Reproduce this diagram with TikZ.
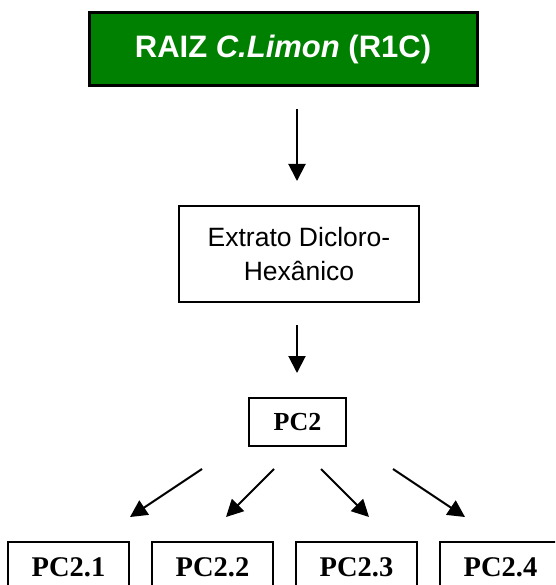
\documentclass[tikz,border=0pt]{standalone}
\usepackage{fontspec}
\setmainfont{Liberation Sans}
\newfontfamily\serifb{Liberation Serif}
\usetikzlibrary{arrows.meta}
\definecolor{boxgreen}{RGB}{0,128,0}
\begin{document}
\begin{tikzpicture}[x=1pt,y=-1pt,
  box/.style={draw=black,line width=2pt,rectangle,inner sep=0pt,fill=white},
  topbox/.style={draw=black,line width=3pt,fill=boxgreen,rectangle,inner sep=0pt,
    minimum width=388pt,minimum height=73pt,text=white,
    font=\fontsize{31}{36}\selectfont\bfseries},
  midbox/.style={box,minimum width=240pt,minimum height=96pt,align=center,
    font=\fontsize{26.5}{34}\selectfont},
  pcbox/.style={box,minimum height=48pt,
    font=\serifb\fontsize{26}{30}\selectfont\bfseries},
  leafbox/.style={box,minimum width=121pt,minimum height=50pt,
    font=\serifb\fontsize{28.5}{32}\selectfont\bfseries},
  arr/.style={line width=2pt,-{Triangle[length=17pt,width=17pt]}}]
\clip (0,0) rectangle (555,585);
\fill[white] (0,0) rectangle (555,585);

\node[topbox] (root) at (283,49.5) {RAIZ \textit{C.Limon} (R1C)};
\node[midbox] (ext) at (299,254) {Extrato Dicloro-\\Hexânico};
\node[pcbox,minimum width=97pt] (pc2) at (297.5,422) {PC2};
\node[leafbox] (p1) at (68.5,567) {PC2.1};
\node[leafbox] (p2) at (212.5,567) {PC2.2};
\node[leafbox] (p3) at (356.5,567) {PC2.3};
\node[leafbox] (p4) at (500.5,567) {PC2.4};

\coordinate (a1s) at (297,109);
\coordinate (a1e) at (297,181);
\coordinate (a2s) at (297,325);
\coordinate (a2e) at (297,373);
\coordinate (d1s) at (202,469);
\coordinate (d1e) at (130,517);
\coordinate (d2s) at (274,469);
\coordinate (d2e) at (226,517);
\coordinate (d3s) at (321,469);
\coordinate (d3e) at (369,517);
\coordinate (d4s) at (393,469);
\coordinate (d4e) at (465,517);

\draw[arr] (a1s) -- (a1e);
\draw[arr] (a2s) -- (a2e);
\draw[arr] (d1s) -- (d1e);
\draw[arr] (d2s) -- (d2e);
\draw[arr] (d3s) -- (d3e);
\draw[arr] (d4s) -- (d4e);
\end{tikzpicture}
\end{document}
